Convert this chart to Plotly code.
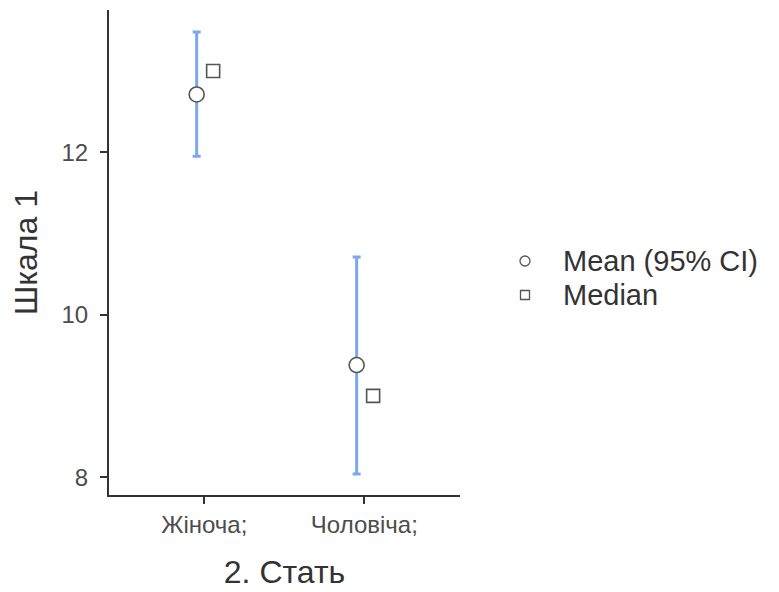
import plotly.graph_objects as go

categories = ["Жіноча;", "Чоловіча;"]
means = [12.71, 9.38]
ci_lower = [11.95, 8.04]
ci_upper = [13.48, 10.71]
medians = [13.0, 9.0]
y_ticks = [8, 10, 12]
legend_labels = ["Mean (95% CI)", "Median"]

idx = list(range(len(categories)))
x_mean = [i - 0.048 for i in idx]
x_median = [i + 0.055 for i in idx]
err_plus = [u - m for u, m in zip(ci_upper, means)]
err_minus = [m - l for m, l in zip(means, ci_lower)]

FONT = "Liberation Sans, Arial, sans-serif"
AX = "#333333"
TXT = "#4d4d4d"
MK = "#555555"

# figure pixel geometry (page is offset by the 8px body margin)
W, H = 779, 592
ML, MR, MT, MB = 101, 327, 2, 105
PW, PH = W - ML - MR, H - MT - MB

fig = go.Figure()
fig.add_trace(go.Scatter(
    x=x_mean, y=means, mode="markers", name=legend_labels[0], showlegend=False,
    error_y=dict(type="data", array=err_plus, arrayminus=err_minus,
                 color="#7AA7F0", thickness=3, width=4),
    marker=dict(symbol="circle", size=15, color="white",
                line=dict(color=MK, width=1.6)),
))
fig.add_trace(go.Scatter(
    x=x_median, y=medians, mode="markers", name=legend_labels[1], showlegend=False,
    marker=dict(symbol="square", size=13, color="white",
                line=dict(color=MK, width=1.6)),
))


def px_x(px):
    return (px - ML) / PW


def px_y(py):
    return (H - MB - py) / PH


# custom legend (symbol + text)
leg_sym_x = 517
leg_txt_x = 553
leg_rows = [253, 287]
fig.add_shape(type="circle", xref="paper", yref="paper",
              xsizemode="pixel", ysizemode="pixel",
              xanchor=px_x(leg_sym_x), yanchor=px_y(leg_rows[0]),
              x0=-5, x1=5, y0=-5, y1=5,
              line=dict(color=MK, width=1.3), fillcolor="white")
fig.add_shape(type="rect", xref="paper", yref="paper",
              xsizemode="pixel", ysizemode="pixel",
              xanchor=px_x(leg_sym_x), yanchor=px_y(leg_rows[1]),
              x0=-4.5, x1=4.5, y0=-4.5, y1=4.5,
              line=dict(color=MK, width=1.3), fillcolor="white")
for label, row in zip(legend_labels, leg_rows):
    fig.add_annotation(text=label, xref="paper", yref="paper",
                       x=px_x(leg_txt_x), y=px_y(row), xanchor="left",
                       yanchor="middle", showarrow=False,
                       font=dict(size=29, color="#333333", family=FONT))

fig.update_layout(
    width=W, height=H, autosize=False,
    margin=dict(l=ML, r=MR, t=MT, b=MB),
    paper_bgcolor="white", plot_bgcolor="white",
    font=dict(family=FONT, color=TXT),
    showlegend=False,
)
fig.update_xaxes(
    range=[-0.596, 1.598], tickvals=idx, ticktext=categories,
    showline=True, linecolor=AX, linewidth=2, mirror=False,
    ticks="outside", ticklen=7, tickwidth=2, tickcolor=AX,
    showgrid=False, zeroline=False,
    tickfont=dict(size=24, color=TXT),
    title=dict(text="2. Стать", font=dict(size=32, color="#333333"), standoff=24),
)
fig.update_yaxes(
    range=[7.78, 13.75], tickvals=y_ticks,
    showline=True, linecolor=AX, linewidth=2,
    ticks="outside", ticklen=7, tickwidth=2, tickcolor=AX,
    ticklabelstandoff=7,
    showgrid=False, zeroline=False,
    tickfont=dict(size=24, color=TXT),
    title=dict(text="Шкала 1", font=dict(size=32, color="#333333"), standoff=18),
)

fig.write_html("out.html")
